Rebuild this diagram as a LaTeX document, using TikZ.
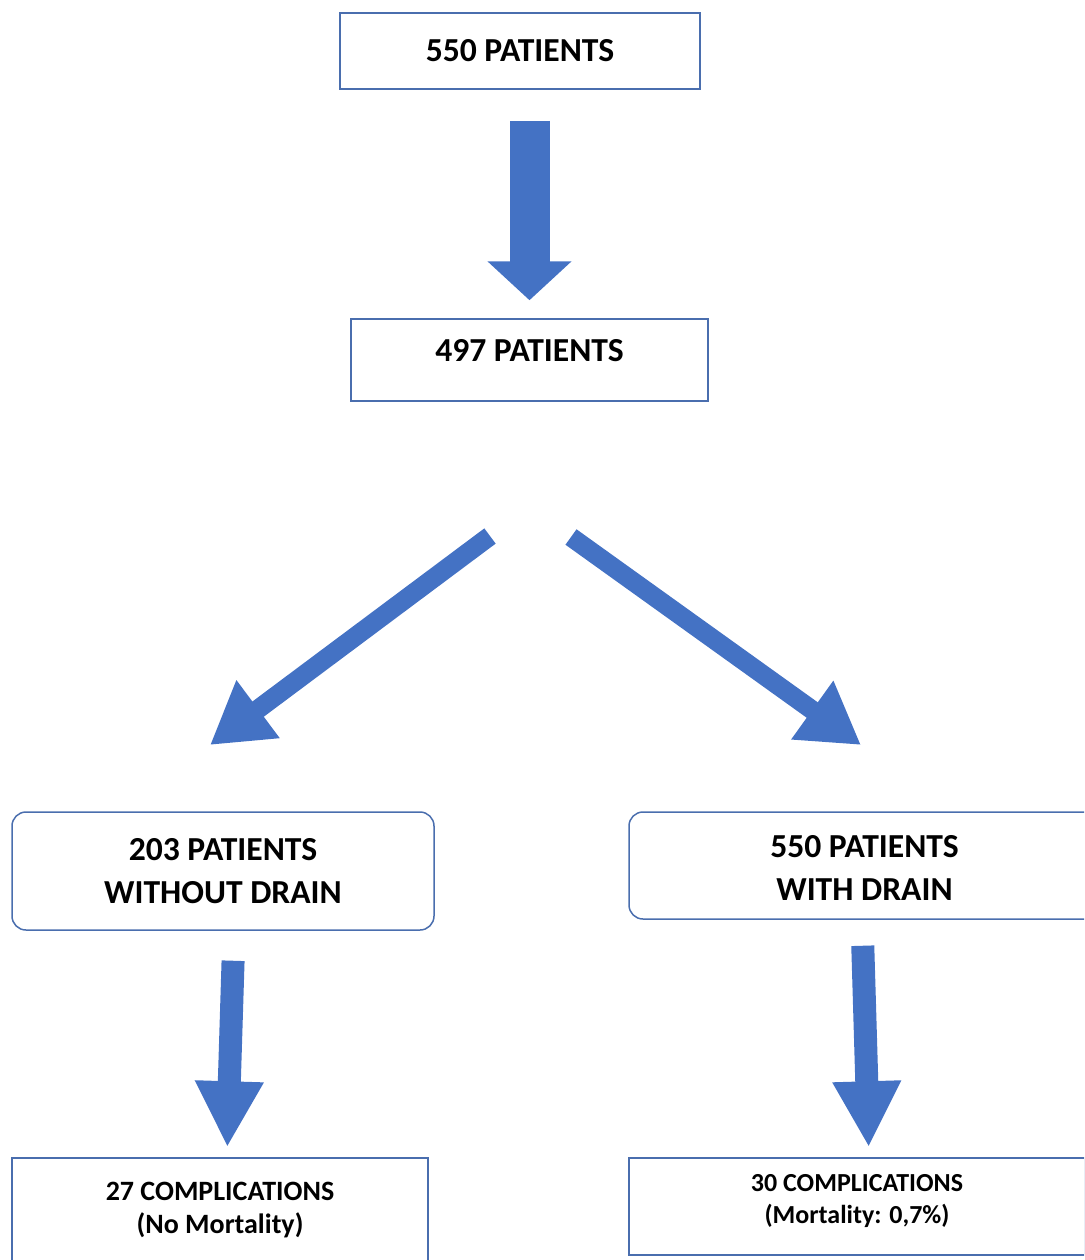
\documentclass[tikz,border=0pt]{standalone}
\usepackage{fontspec}
\setmainfont{Carlito}
\usetikzlibrary{arrows.meta}

\definecolor{officeblue}{HTML}{4472C4}
\definecolor{boxline}{HTML}{4A6EAE}

\tikzstyle{box}=[draw=boxline,line width=0.75pt,fill=white,align=center,inner sep=0pt,font=\bfseries\fontsize{16.8}{21.5}\selectfont]
\tikzstyle{roundbox}=[box,rounded corners=7pt]
\tikzstyle{smallbox}=[box,font=\bfseries\fontsize{14}{16.5}\selectfont]
\tikzstyle{fat}=[draw=officeblue,line width=20pt,-{Triangle[width=41pt,length=19.5pt]}]
\tikzstyle{fatdiag}=[fat,line width=9.5pt,-{Triangle[width=34pt,length=30pt]}]
\tikzstyle{fatsmall}=[fat,line width=11.5pt,-{Triangle[width=32pt,length=33pt]}]

\begin{document}
\begin{tikzpicture}[x=0.5pt,y=-0.5pt]
			\useasboundingbox (0,0) rectangle (1084,1260);
			\clip (0,0) rectangle (1084,1260);
			% boxes
			\node[box,minimum width=180pt,minimum height=38pt] (p550) at (520,51) {550 PATIENTS};
			\node[box,minimum width=178.5pt,minimum height=41pt,text depth=10pt] (p497) at (529.5,360) {497 PATIENTS};
			\node[roundbox,minimum width=211pt,minimum height=59pt] (nodrain) at (223,871) {203 PATIENTS\\WITHOUT DRAIN};
			\node[roundbox,minimum width=235.5pt,minimum height=53.5pt,text height=35pt] (drain) at (864.5,865.5) {550 PATIENTS\\WITH DRAIN};
			\node[smallbox,minimum width=208pt,minimum height=52pt] (compl27) at (220,1210) {27 COMPLICATIONS\\(No Mortality)};
			\node[smallbox,minimum width=228pt,minimum height=48.5pt,text depth=8pt,font=\bfseries\fontsize{13}{16}\selectfont] (compl30) at (857,1206.5) {30 COMPLICATIONS\\(Mortality: 0,7\%)};
			% split points
			\coordinate (splitl) at (490,536);
			\coordinate (splitr) at (571,537);
			\coordinate (tipl) at (210,745);
			\coordinate (tipr) at (861,745);
	    		% arrows
			\draw[fat,shorten <=15.5pt,shorten >=9pt] (p497.north |- p550.south) -- (p497.north);
			\draw[fatdiag] (splitl) -- (tipl);
			\draw[fatdiag] (splitr) -- (tipr);
			\draw[fatsmall,shorten <=15pt,shorten >=5pt] ([xshift=5.5pt]nodrain.south) -- ([xshift=3.5pt]compl27.north);
			\draw[fatsmall,shorten <=13pt,shorten >=5pt] ([xshift=-1.25pt]drain.south) -- ([xshift=6pt]compl30.north);
		\end{tikzpicture}
\end{document}
